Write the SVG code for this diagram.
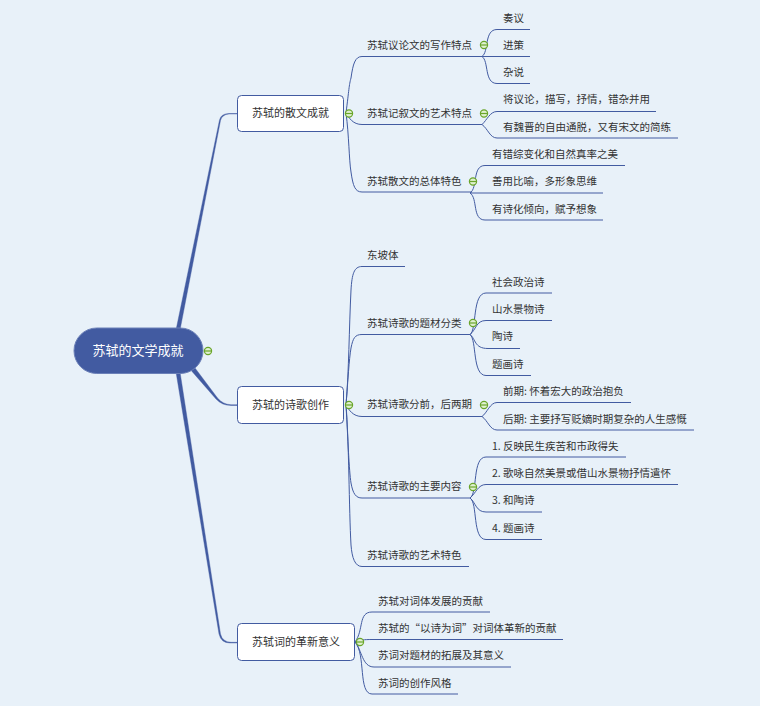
<svg xmlns="http://www.w3.org/2000/svg" width="760" height="706" viewBox="0 0 760 706">
<style>
text{font-family:"Noto Sans CJK SC","Liberation Sans",sans-serif;font-size:10.5px;fill:#333}
.n{font-size:11px;text-anchor:middle}
.r{font-size:13px;fill:#fff;text-anchor:middle}
.box{fill:#fff;stroke:#425ba1;stroke-width:1}
.l{fill:none;stroke:#425ba1;stroke-width:1}
.t{fill:#425ba1;stroke:#425ba1;stroke-width:.4}
.c circle{fill:#dff0d0;stroke:#6aa52a;stroke-width:1.2}
.c path{stroke:#6aa52a;stroke-width:1.2;fill:none}
</style>
<rect width="760" height="706" fill="#e8f1f9"/>
<g id="connectors">
<path class="t" d="M176 330L219.500 120Q221 113.500 229 113.500H237V114H229Q222 114.500 220.500 120.500L180 330Z"/>
<path class="t" d="M189 368L216 399Q222 405.500 231 405.500H237V404.700H231Q223 404.500 217.500 398L195 368Z"/>
<path class="t" d="M176 372L219 634Q221 643 230 643H237V642.300H231Q222.500 642 220.500 634L180 372Z"/>
<path class="l" d="M346 113C349 90 349 85 351 78C353 64 355 56.500 362 56.500H482"/>
<path class="l" d="M346 113C349 118 353 124.500 362 124.500H482"/>
<path class="l" d="M346 113C349 135 349 160 351 172C353 186 355 192 362 192H472"/>
<path class="l" d="M482 56.500C489 52 484 29.500 497 29.500H530"/>
<path class="l" d="M482 56.500H530"/>
<path class="l" d="M482 56.500C489 61 484 83.500 497 83.500H530"/>
<path class="l" d="M482 124.500C487 120 490 111.500 497 111.500H656"/>
<path class="l" d="M482 124.500C488 129 490 138 497 138H678"/>
<path class="l" d="M470 193C478 188 472 165.500 485 165.500H625"/>
<path class="l" d="M470 193H603"/>
<path class="l" d="M470 193C478 198 472 220 485 220H603"/>
<path class="l" d="M346 405C349 370 349 330 351 290C352 274 354 266.500 362 266.500H405"/>
<path class="l" d="M346 405C348 380 349 360 351 348C353 338 355 334.500 362 334.500H470"/>
<path class="l" d="M346 405C349 410 353 416.500 362 416.500H482"/>
<path class="l" d="M346 405C348 440 349 470 351 483C353 494 356 498 362 498H470"/>
<path class="l" d="M346 405C349 440 349 510 351 545C352 558 355 566.500 362 566.500H469"/>
<path class="l" d="M470 334.500C477 330 472 293 486 293H552"/>
<path class="l" d="M470 334.500C476 330 476 320.500 486 320.500H552"/>
<path class="l" d="M470 334.500C476 339 474 348.500 488 348.500H520"/>
<path class="l" d="M470 334.500C477 340 472 375.500 486 375.500H531"/>
<path class="l" d="M482 416.500C487 413 490 402.500 497 402.500H631"/>
<path class="l" d="M482 416.500C488 421 490 430 497 430H694"/>
<path class="l" d="M470 498C478 493 472 457 486 457H626"/>
<path class="l" d="M470 498C476 493 478 484.500 486 484.500H678"/>
<path class="l" d="M470 498C476 503 476 512 486 512H542"/>
<path class="l" d="M470 498C478 503 472 539.500 486 539.500H542"/>
<path class="l" d="M355 642C364 630 358 612 372 612H490"/>
<path class="l" d="M355 642C360 640 364 639.500 372 639.500H563"/>
<path class="l" d="M355 642C362 650 362 667 374 667H511"/>
<path class="l" d="M355 642C366 654 358 694 372 694H458"/>
</g>
<g id="root"><rect x="74" y="328" width="129" height="45.500" rx="22.700" fill="#425ba1" stroke="#6b80b8"/><text class="r" x="138" y="355">苏轼的文学成就</text></g>
<g id="n1"><rect class="box" x="237.500" y="95.500" width="106" height="36" rx="4"/><text class="n" x="290.500" y="117">苏轼的散文成就</text></g>
<g id="n2"><rect class="box" x="237.500" y="386.500" width="106" height="37" rx="4"/><text class="n" x="290.500" y="409">苏轼的诗歌创作</text></g>
<g id="n3"><rect class="box" x="237.500" y="623.500" width="117" height="37" rx="4"/><text class="n" x="296" y="646">苏轼词的革新意义</text></g>
<g id="sub1"><text x="367" y="49">苏轼议论文的写作特点</text></g>
<g id="sub2"><text x="367" y="117">苏轼记叙文的艺术特点</text></g>
<g id="sub3"><text x="367" y="185">苏轼散文的总体特色</text></g>
<g id="leaf1"><text x="503" y="22">奏议</text></g>
<g id="leaf2"><text x="503" y="49">进策</text></g>
<g id="leaf3"><text x="503" y="76">杂说</text></g>
<g id="leaf4"><text x="503" y="103">将议论，描写，抒情，错杂并用</text></g>
<g id="leaf5"><text x="503" y="131">有魏晋的自由通脱，又有宋文的简练</text></g>
<g id="leaf6"><text x="492" y="158">有错综变化和自然真率之美</text></g>
<g id="leaf7"><text x="492" y="185">善用比喻，多形象思维</text></g>
<g id="leaf8"><text x="492" y="213">有诗化倾向，赋予想象</text></g>
<g id="sub4"><text x="367" y="259">东坡体</text></g>
<g id="sub5"><text x="367" y="327">苏轼诗歌的题材分类</text></g>
<g id="sub6"><text x="367" y="408">苏轼诗歌分前，后两期</text></g>
<g id="sub7"><text x="367" y="490">苏轼诗歌的主要内容</text></g>
<g id="sub8"><text x="367" y="559">苏轼诗歌的艺术特色</text></g>
<g id="leaf9"><text x="492" y="286">社会政治诗</text></g>
<g id="leaf10"><text x="492" y="313">山水景物诗</text></g>
<g id="leaf11"><text x="492" y="340">陶诗</text></g>
<g id="leaf12"><text x="492" y="368">题画诗</text></g>
<g id="leaf13"><text x="503" y="395">前期: 怀着宏大的政治抱负</text></g>
<g id="leaf14"><text x="503" y="423">后期: 主要抒写贬嫡时期复杂的人生感慨</text></g>
<g id="leaf15"><text x="492" y="450">1. 反映民生疾苦和市政得失</text></g>
<g id="leaf16"><text x="492" y="477">2. 歌咏自然美景或借山水景物抒情遣怀</text></g>
<g id="leaf17"><text x="492" y="504">3. 和陶诗</text></g>
<g id="leaf18"><text x="492" y="532">4. 题画诗</text></g>
<g id="leaf19"><text x="378" y="605">苏轼对词体发展的贡献</text></g>
<g id="leaf20"><text x="378" y="632">苏轼的“以诗为词”对词体革新的贡献</text></g>
<g id="leaf21"><text x="378" y="659">苏词对题材的拓展及其意义</text></g>
<g id="leaf22"><text x="378" y="687">苏词的创作风格</text></g>
<g id="toggles" class="c">
<circle cx="208" cy="351" r="3.600"/><path d="M204.500 351h7"/>
<circle cx="349" cy="113.500" r="3.600"/><path d="M345.500 113.500h7"/>
<circle cx="349" cy="405" r="3.600"/><path d="M345.500 405h7"/>
<circle cx="360" cy="642" r="3.600"/><path d="M356.500 642h7"/>
<circle cx="484" cy="45" r="3.600"/><path d="M480.500 45h7"/>
<circle cx="484" cy="113.500" r="3.600"/><path d="M480.500 113.500h7"/>
<circle cx="473" cy="181.500" r="3.600"/><path d="M469.500 181.500h7"/>
<circle cx="473" cy="323" r="3.600"/><path d="M469.500 323h7"/>
<circle cx="484" cy="405" r="3.600"/><path d="M480.500 405h7"/>
<circle cx="473" cy="487" r="3.600"/><path d="M469.500 487h7"/>
</g>
</svg>
